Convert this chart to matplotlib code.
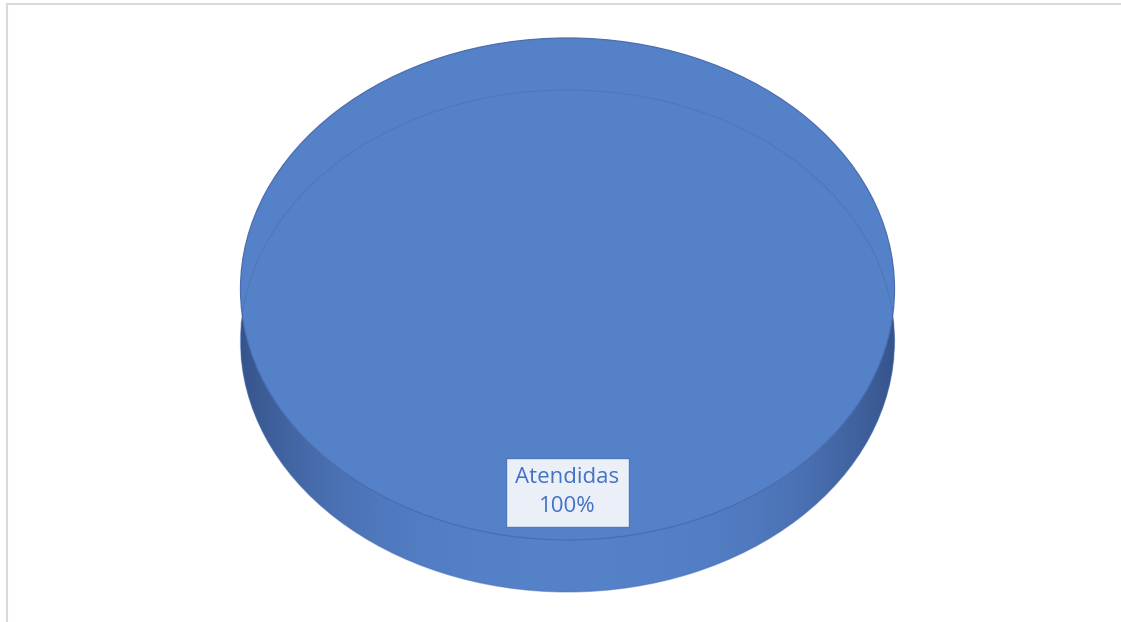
import numpy as np
import matplotlib.pyplot as plt
from matplotlib.lines import Line2D

# data
categories = ['Atendidas']
values = [100]

top_color = '#5581C9'
side_dark = np.array([0.20, 0.31, 0.52])
label_color = '#4472C4'

depth = 52 / 251.0

fig = plt.figure(figsize=(11.21, 6.22), dpi=100)
ax = fig.add_axes([0, 0, 1, 1])

def fmt(pct):
    return '%s\n%.0f%%' % (categories[0], pct)

# bottom (side) of the pie
bottom, _ = ax.pie(values, center=(0, -depth), radius=1, startangle=90,
                   colors=[top_color], wedgeprops=dict(linewidth=0))

# side shading, darker towards left and right edges
xs = np.linspace(-1, 1, 400)
shade = np.clip(np.abs(xs) ** 3.0, 0, 1)
img = np.zeros((2, len(xs), 4))
img[..., 0] = side_dark[0]
img[..., 1] = side_dark[1]
img[..., 2] = side_dark[2]
img[..., 3] = shade * 0.9
im = ax.imshow(img, extent=(-1, 1, -1 - depth, 1 - depth), aspect='auto',
               interpolation='bilinear', zorder=2)
im.set_clip_path(bottom[0])

# top face
top, _, autotexts = ax.pie(values, center=(0, 0), radius=1, startangle=90,
                           colors=[top_color], autopct=fmt, pctdistance=0.81,
                           wedgeprops=dict(linewidth=0.9, edgecolor='#4A6EAF'),
                           textprops=dict(color=label_color, fontsize=16,
                                          family='Open Sans'))
for w in top:
    w.set_zorder(3)

# faint rim line of the far edge
rim, _ = ax.pie(values, center=(0, -depth), radius=1, startangle=90,
                colors=['none'],
                wedgeprops=dict(linewidth=0.9, edgecolor='#4A6DAE', alpha=0.45))
for w in rim:
    w.set_zorder(4)
    w.set_facecolor('none')

for t in autotexts:
    t.set_zorder(6)
    t.set_linespacing(1.5)
    t.set_bbox(dict(boxstyle='square,pad=0.42', facecolor='#EBF0F8',
                    edgecolor='#4F78BE', linewidth=1.0))

ax.set_aspect('auto')
ax.set_xlim(-567.5 / 327, (1121 - 567.5) / 327)
ax.set_ylim(-(622 - 289) / 251, 289 / 251)
ax.axis('off')

# chart area border (top and left visible)
fig.add_artist(Line2D([7 / 1121, 1], [1 - 3.5 / 622, 1 - 3.5 / 622],
                      color='#D9D9D9', linewidth=1.5))
fig.add_artist(Line2D([7 / 1121, 7 / 1121], [0, 1 - 3.5 / 622],
                      color='#D9D9D9', linewidth=1.5))

fig.savefig('out.png', dpi=100)
